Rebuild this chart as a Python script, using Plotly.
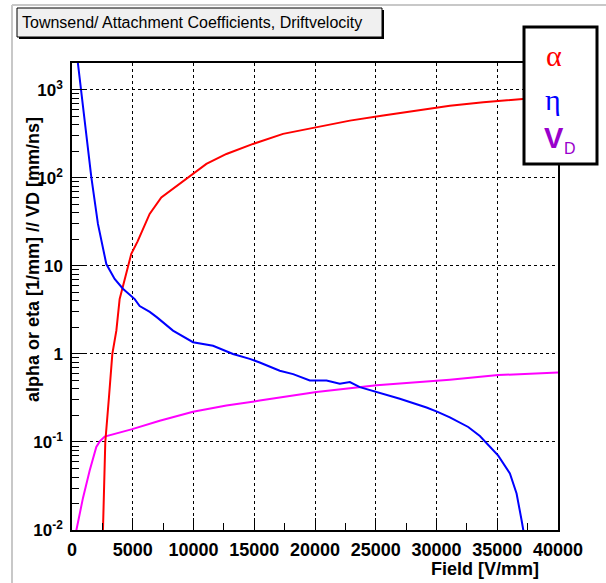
import plotly.graph_objects as go

# ---------------- data ----------------
field_alpha = [2540, 2740, 3040, 3320, 3650, 3920, 4400, 4880, 5400, 5900, 6390, 7350,
               8590, 9960, 11060, 12710, 14900, 17370, 20120, 22870, 25610, 28360,
               31100, 33850, 36870, 40000]
alpha = [0.009, 0.1, 0.32, 1.0, 1.84, 4.2, 7.6, 13.7, 19, 27, 39, 60,
         81, 111, 144, 187, 243, 316, 376, 447, 511, 582,
         661, 723, 790, 850]

field_eta = [420, 765, 1175, 1590, 2135, 2825, 3510, 4190, 5160, 5570, 6400, 7000,
             8310, 9960, 11610, 13250, 14630, 15450, 17100, 18200, 19570, 20950,
             22040, 22870, 23690, 25070, 26980, 29180, 30090, 31100, 32610, 33570,
             35080, 36040, 36590, 37000, 37200]
eta = [2400, 980, 316, 102, 30, 10.5, 7.1, 5.5, 4.2, 3.5, 3.0, 2.6,
       1.84, 1.36, 1.24, 1.0, 0.88, 0.80, 0.645, 0.59, 0.50, 0.50,
       0.46, 0.48, 0.42, 0.37, 0.31, 0.246, 0.22, 0.19, 0.148, 0.117,
       0.070, 0.044, 0.026, 0.013, 0.009]

field_vd = [330, 900, 1450, 1750, 2000, 2300, 2500, 2690, 4960, 7220, 9960, 12710, 15450,
            20120, 25070, 26980, 31100, 35080, 40000]
vd = [0.0095, 0.023, 0.047, 0.068, 0.088, 0.102, 0.109, 0.115, 0.140, 0.174, 0.22, 0.26,
      0.295, 0.37, 0.44, 0.46, 0.51, 0.575, 0.615]

x_tickvals = [0, 5000, 10000, 15000, 20000, 25000, 30000, 35000, 40000]
x_ticktext = ["0", "5000", "10000", "15000", "20000", "25000", "30000", "35000", "40000"]
y_tickvals = [0.01, 0.1, 1, 10, 100, 1000]
y_ticktext = ["10<sup>-2</sup>", "10<sup>-1</sup>", "1", "10", "10<sup>2</sup>", "10<sup>3</sup>"]
y_minorvals = [m * d for d in [0.01, 0.1, 1, 10, 100, 1000] for m in range(2, 10)]

title_text = "Townsend/ Attachment Coefficients, Driftvelocity"
x_title = "Field [V/mm]"
y_title = "alpha or eta [1/mm] // VD [mm/ns]"

# ---------------- geometry helpers ----------------
W, H = 606, 583
L, R, T, B = 72, 558, 63, 530


def px(x):
    return (x - L) / (R - L)


def py(y):
    return (B - y) / (B - T)


fig = go.Figure()
fig.add_trace(go.Scatter(x=field_vd, y=vd, mode="lines",
                         line=dict(color="#ff00ff", width=2), showlegend=False))
fig.add_trace(go.Scatter(x=field_alpha, y=alpha, mode="lines",
                         line=dict(color="#ff0000", width=2), showlegend=False))
fig.add_trace(go.Scatter(x=field_eta, y=eta, mode="lines",
                         line=dict(color="#0000ff", width=2), showlegend=False))

xtickfont = dict(family="Liberation Sans", size=18, color="black", weight="bold")
ytickfont = dict(family="Liberation Sans", size=17, color="black", weight="bold")

fig.update_layout(
    width=W, height=H,
    margin=dict(l=L, r=W - R, t=T, b=H - B, autoexpand=False),
    paper_bgcolor="white", plot_bgcolor="white",
    xaxis=dict(range=[0, 40000], tickmode="array", tickvals=x_tickvals, ticktext=x_ticktext,
               ticks="inside", ticklen=12, tickwidth=1, tickcolor="black",
               showline=True, linecolor="black", linewidth=1.5, mirror=True,
               showgrid=True, gridcolor="black", gridwidth=1, griddash="3px,3px",
               zeroline=False, tickfont=xtickfont, ticklabelstandoff=3,
               minor=dict(dtick=2500, tick0=0, ticks="inside", ticklen=7,
                          tickcolor="black", tickwidth=1, showgrid=False)),
    yaxis=dict(type="log", range=[-2, 3.305], tickmode="array", tickvals=y_tickvals,
               ticktext=y_ticktext,
               ticks="inside", ticklen=14, tickwidth=1, tickcolor="black",
               showline=True, linecolor="black", linewidth=1.5, mirror=True,
               showgrid=True, gridcolor="black", gridwidth=1, griddash="3px,3px",
               zeroline=False, tickfont=ytickfont, ticklabelstandoff=4,
               minor=dict(tickmode="array", tickvals=y_minorvals, ticks="inside",
                          ticklen=7, tickcolor="black", tickwidth=1, showgrid=False)),
)

shapes = []
# canvas frame lines (light gray)
shapes.append(dict(type="line", xref="paper", yref="paper", x0=px(12), x1=px(12),
                   y0=py(5), y1=py(590), line=dict(color="#c8c8c8", width=2)))
shapes.append(dict(type="line", xref="paper", yref="paper", x0=px(12), x1=px(620),
                   y0=py(5), y1=py(5), line=dict(color="#c8c8c8", width=2)))
# title box shadow + box
shapes.append(dict(type="rect", xref="paper", yref="paper", x0=px(19), x1=px(384),
                   y0=py(39), y1=py(10), fillcolor="black", line=dict(width=0)))
shapes.append(dict(type="rect", xref="paper", yref="paper", x0=px(17), x1=px(382),
                   y0=py(37), y1=py(8), fillcolor="#f0f0f0",
                   line=dict(color="black", width=1)))
# legend box
shapes.append(dict(type="rect", xref="paper", yref="paper", x0=px(524), x1=px(597),
                   y0=py(164), y1=py(27), fillcolor="white",
                   line=dict(color="black", width=3), layer="above"))
fig.update_layout(shapes=shapes)

ann = []
ann.append(dict(text=title_text, xref="paper", yref="paper", x=px(20), y=py(22.5),
                xanchor="left", yanchor="middle", showarrow=False,
                font=dict(family="Liberation Sans", size=16, color="black")))
ann.append(dict(text=x_title, xref="paper", yref="paper", x=px(541), y=py(569),
                xanchor="right", yanchor="middle", showarrow=False,
                font=dict(family="Liberation Sans", size=18, color="black", weight="bold")))
ann.append(dict(text=y_title, xref="paper", yref="paper", x=px(33), y=py(260),
                xanchor="center", yanchor="middle", textangle=-90, showarrow=False,
                font=dict(family="Liberation Sans", size=18, color="black", weight="bold")))
ann.append(dict(text="α", xref="paper", yref="paper", x=px(554), y=py(55),
                xanchor="center", yanchor="middle", showarrow=False,
                font=dict(family="Liberation Serif", size=30, color="#ff0000")))
ann.append(dict(text="η", xref="paper", yref="paper", x=px(553), y=py(99),
                xanchor="center", yanchor="middle", showarrow=False,
                font=dict(family="Liberation Serif", size=30, color="#0000ff")))
ann.append(dict(text="V", xref="paper", yref="paper", x=px(554), y=py(138),
                xanchor="center", yanchor="middle", showarrow=False,
                font=dict(family="Liberation Sans", size=29, color="#9900cc", weight="bold")))
ann.append(dict(text="D", xref="paper", yref="paper", x=px(570), y=py(149),
                xanchor="center", yanchor="middle", showarrow=False,
                font=dict(family="Liberation Sans", size=16, color="#9900cc")))
fig.update_layout(annotations=ann)

fig.write_html("out.html")
